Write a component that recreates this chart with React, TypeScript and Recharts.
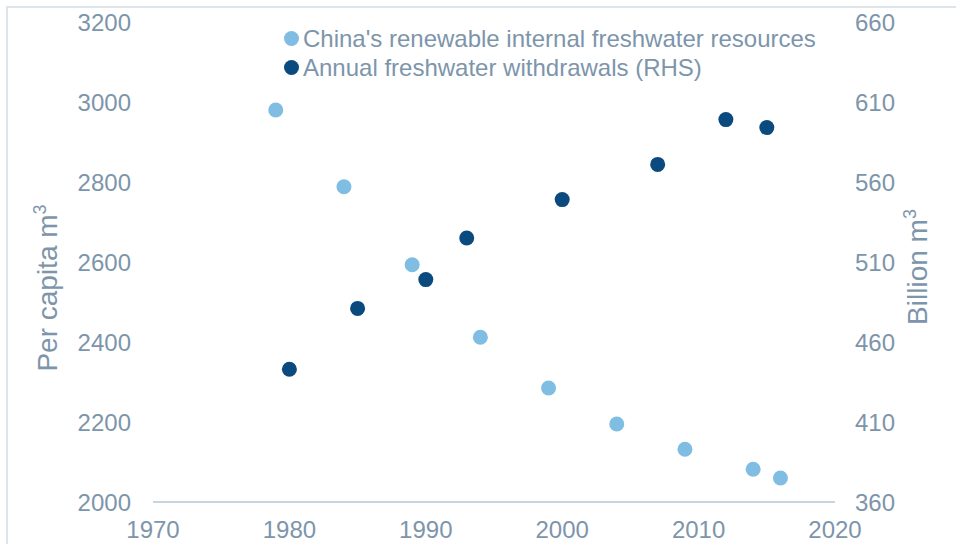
import { ScatterChart, Scatter, XAxis, YAxis, Legend, Label } from 'recharts';

const resourceYears = [1979, 1984, 1989, 1994, 1999, 2004, 2009, 2014, 2016];
const resourceValues = [2980, 2788, 2593, 2412, 2285, 2195, 2132, 2082, 2060];

const withdrawalYears = [1980, 1985, 1990, 1993, 2000, 2007, 2012, 2015];
const withdrawalValues = [443, 481, 499, 525, 549, 571, 599, 594];

const xTicks = [1970, 1980, 1990, 2000, 2010, 2020];
const leftTicks = [2000, 2200, 2400, 2600, 2800, 3000, 3200];
const rightTicks = [360, 410, 460, 510, 560, 610, 660];

const seriesNames = [
  "China's renewable internal freshwater resources",
  'Annual freshwater withdrawals (RHS)',
];

const LIGHT = '#7fbde3';
const DARK = '#0b4a7e';
const TEXT = '#7d95ab';
const FONT = '"Liberation Sans", Arial, sans-serif';

const resourceData = resourceYears.map((year, i) => ({ year, value: resourceValues[i] }));
const withdrawalData = withdrawalYears.map((year, i) => ({ year, value: withdrawalValues[i] }));

const dot = (color: string) => (props: any) => (
  <circle cx={props.cx} cy={props.cy} r={7.5} fill={color} />
);

function AxisTitle({ x, y, main }: { x: number; y: number; main: string }) {
  return (
    <text
      x={x}
      y={y}
      transform={`rotate(-90 ${x} ${y})`}
      textAnchor="middle"
      fill={TEXT}
      fontSize={28}
      fontFamily={FONT}
    >
      {main}
      <tspan fontSize={18} dy={-11}>3</tspan>
    </text>
  );
}

function LegendBox() {
  const colors = [LIGHT, DARK];
  return (
    <div style={{ fontFamily: FONT, fontSize: 24, color: TEXT, lineHeight: '29px' }}>
      {seriesNames.map((name, i) => (
        <div key={name} style={{ display: 'flex', alignItems: 'center', whiteSpace: 'nowrap' }}>
          <span
            style={{
              width: 15,
              height: 15,
              borderRadius: '50%',
              background: colors[i],
              display: 'inline-block',
              marginRight: 4,
            }}
          />
          {name}
        </div>
      ))}
    </div>
  );
}

export default function App() {
  const tick = { fill: TEXT, fontSize: 24, fontFamily: FONT };
  return (
    <div
      style={{
        position: 'fixed',
        left: 0,
        top: 0,
        width: 956,
        height: 544,
        overflow: 'hidden',
        background: '#fff',
      }}
    >
      <div
        style={{
          position: 'absolute',
          left: 6,
          top: 6,
          width: 2000,
          height: 2000,
          border: '2px solid #dde4ea',
        }}
      />
      <ScatterChart
        width={956}
        height={544}
        margin={{ top: 22, right: 0, bottom: 0, left: 0 }}
        style={{ position: 'absolute', left: 0, top: 0 }}
      >
        <XAxis
          type="number"
          dataKey="year"
          domain={[1970, 2020]}
          ticks={xTicks}
          interval={0}
          height={42}
          tick={tick}
          tickLine={false}
          tickSize={0}
          tickMargin={19}
          axisLine={{ stroke: '#c8d5df', strokeWidth: 2 }}
        />
        <YAxis
          yAxisId="left"
          type="number"
          dataKey="value"
          domain={[2000, 3200]}
          ticks={leftTicks}
          interval={0}
          width={153}
          tick={tick}
          tickLine={false}
          tickSize={0}
          tickMargin={22}
          axisLine={false}
        >
          <Label content={() => <AxisTitle x={57} y={288} main="Per capita m" />} />
        </YAxis>
        <YAxis
          yAxisId="right"
          orientation="right"
          type="number"
          dataKey="value"
          domain={[360, 660]}
          ticks={rightTicks}
          interval={0}
          width={121}
          tick={{ ...tick, textAnchor: 'start' }}
          tickLine={false}
          tickSize={0}
          tickMargin={20}
          axisLine={false}
        >
          <Label content={() => <AxisTitle x={927} y={267} main="Billion m" />} />
        </YAxis>
        <Legend
          layout="vertical"
          align="center"
          verticalAlign="middle"
          content={() => <LegendBox />}
          wrapperStyle={{ position: 'absolute', top: 24, left: 284, width: 'auto' }}
        />
        <Scatter
          name={seriesNames[0]}
          data={resourceData}
          yAxisId="left"
          fill={LIGHT}
          shape={dot(LIGHT)}
          isAnimationActive={false}
        />
        <Scatter
          name={seriesNames[1]}
          data={withdrawalData}
          yAxisId="right"
          fill={DARK}
          shape={dot(DARK)}
          isAnimationActive={false}
        />
      </ScatterChart>
    </div>
  );
}
